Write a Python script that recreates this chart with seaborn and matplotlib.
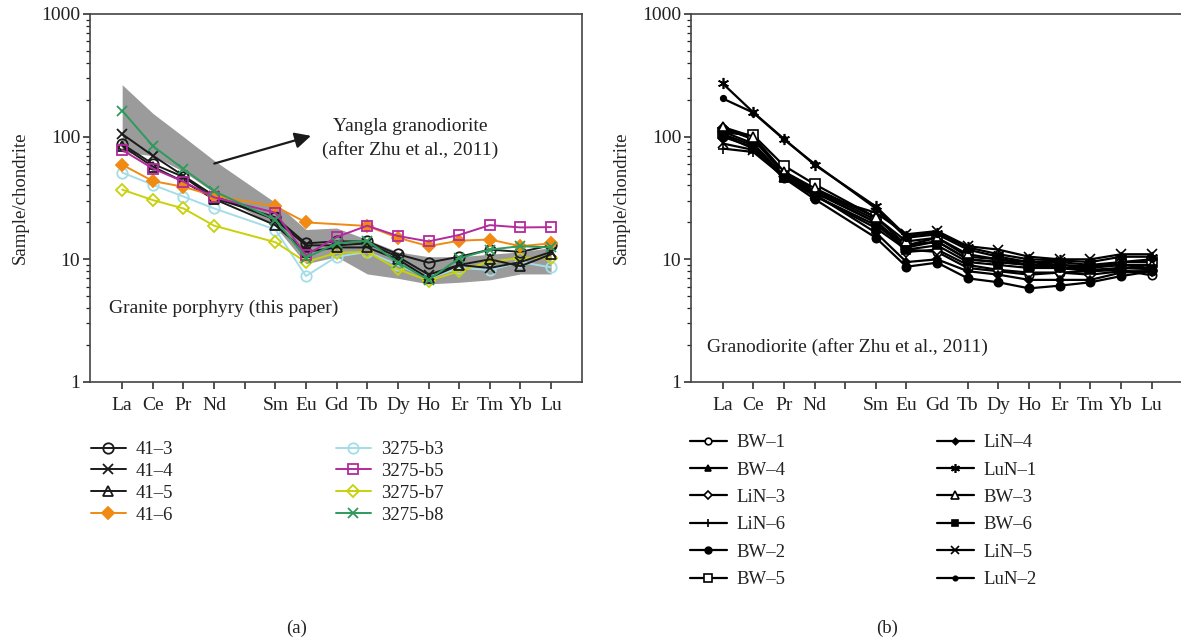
import numpy as np
import pandas as pd
import matplotlib
matplotlib.use("Agg")
import matplotlib.pyplot as plt
from matplotlib.ticker import FixedLocator, FixedFormatter, FuncFormatter
import seaborn as sns

# ---------------- data ----------------
axis_labels = ['La', 'Ce', 'Pr', 'Nd', 'Pm', 'Sm', 'Eu', 'Gd', 'Tb', 'Dy', 'Ho', 'Er', 'Tm', 'Yb', 'Lu']
ree = ['La', 'Ce', 'Pr', 'Nd', 'Sm', 'Eu', 'Gd', 'Tb', 'Dy', 'Ho', 'Er', 'Tm', 'Yb', 'Lu']

# panel (a): granite porphyry
s41_3 = [87, 60, 47, 31.5, 22, 13.5, 14, 14, 11, 9.4, 10.5, 12, 11.5, 13]
s41_4 = [105, 70, 48, 33, 21, 13, 13, 13.5, 10.5, 7.5, 9, 8.5, 9.5, 11.5]
s41_5 = [84, 57, 43, 31, 19, 11.5, 12.5, 12.5, 10, 7, 9, 10, 8.8, 11]
s41_6 = [59, 43.5, 39, 33, 27, 20, np.nan, 18.7, 15, 12.8, 14.2, 14.5, 12.8, 13.5]
s3275_b3 = [51, 40.5, 32.5, 26, 17.5, 7.3, 10.5, 11.5, 9, 7, 8.5, 8.2, 9.5, 8.6]
s3275_b5 = [78, 55, 43, 32, 24, 10.8, 15.2, 18.8, 15.5, 14, 15.8, 19, 18.2, 18.3]
s3275_b7 = [37, 30.4, 26, 18.8, 13.8, 9.5, 11.3, 11.5, 8.3, 6.7, 8, 9.6, 10.2, 10.3]
s3275_b8 = [163, 84, 54.5, 36, 21, 10.3, 13.5, 14.2, 9.4, 6.8, 10.2, 12, 12.8, 12.5]
names_a = ['41\u20133', '41\u20134', '41\u20135', '41\u20136',
           '3275-b3', '3275-b5', '3275-b7', '3275-b8']

# Yangla granodiorite envelope
band_upper = [265, 155, 100, 64, 29, 17.5, 18, 14.5, 11.5, 10.5, 10.5, 11, 11.5, 12.5]
band_lower = [75, 70, 52, 35, 18.5, 9.2, 10.5, 7.6, 7.0, 6.3, 6.5, 6.8, 7.6, 7.6]

# panel (b): granodiorite (Zhu et al., 2011)
bw_1 = [115, 98, 50, 36, 20, 12, 11.5, 8.5, 8, 7.5, 7.8, 8, 8.2, 7.4]
bw_4 = [110, 88, 48, 35, 20, 13, 14, 10, 9.5, 9, 8.5, 8, 8.5, 8.5]
lin_3 = [118, 95, 50, 37, 21, 11.5, 12, 9, 8.2, 7.8, 7.8, 7.5, 8, 8]
lin_6 = [80, 75, 47, 33, 19, 12.5, 14, 10, 9.5, 9, 8.5, 8.5, 9, 8.5]
bw_2 = [100, 82, 46, 31, 15, 8.7, 9.4, 7.0, 6.5, 5.8, 6.1, 6.5, 7.3, 8]
bw_5 = [108, 103, 58, 41, 22, 13, 15, 10.5, 10, 9, 9, 8.5, 9.5, 9.5]
lin_4 = [105, 85, 47, 34, 16.5, 9.5, 10, 8, 7.5, 6.8, 6.8, 6.8, 7.8, 8]
lun_1 = [272, 158, 96, 59, 27, 15.5, 16.5, 12.5, 11, 10, 9.8, 9.5, 10.5, 10.5]
bw_3 = [120, 100, 52, 38, 22, 14, 15, 11, 10, 9.5, 9, 8.8, 9, 9]
bw_6 = [103, 80, 46, 33, 18, 12, 13, 9.5, 9, 8.5, 8.5, 8.2, 8.5, 8.3]
lin_5 = [88, 78, 47, 34, 24, 16, 17, 12.8, 12, 10.5, 10, 10, 11, 11]
lun_2 = [205, 157, 95, 60, 26, 15, 16, 12, 10.5, 9.5, 9.5, 9, 9.5, 10]
names_b = ['BW\u20131', 'BW\u20134', 'LiN\u20133', 'LiN\u20136', 'BW\u20132', 'BW\u20135',
           'LiN\u20134', 'LuN\u20131', 'BW\u20133', 'BW\u20136', 'LiN\u20135', 'LuN\u20132']

# ---------------- style ----------------
sns.set_style("ticks")
plt.rcParams['font.family'] = ['Liberation Serif', 'DejaVu Serif']
FS = 13.5
W, H = 1181, 644
fig = plt.figure(figsize=(W / 100, H / 100), dpi=100)

def px_axes(l, t, r, b):
    return [l / W, 1 - b / H, (r - l) / W, (b - t) / H]

ax1 = fig.add_axes(px_axes(90, 14, 581.7, 382))
ax2 = fig.add_axes(px_axes(691, 14, 1183, 382))

xpos = [axis_labels.index(e) for e in ree]

def long_df(series, names):
    rows = []
    for nm, vals in zip(names, series):
        for e, x, v in zip(ree, xpos, vals):
            if not np.isnan(v):
                rows.append((nm, e, x, v))
    return pd.DataFrame(rows, columns=['sample', 'ree', 'x', 'value'])

# ---------------- panel (a) ----------------
ax1.fill_between(xpos, band_lower, band_upper, color='#9b9b9b', lw=0, zorder=1)

df_a = long_df([s41_3, s41_4, s41_5, s41_6, s3275_b3, s3275_b5, s3275_b7, s3275_b8], names_a)
style_a = {
    names_a[0]: dict(color='#1a1a1a', marker='o', mfc='none'),
    names_a[1]: dict(color='#1a1a1a', marker='x', mfc='none'),
    names_a[2]: dict(color='#1a1a1a', marker='^', mfc='none'),
    names_a[3]: dict(color='#f08a12', marker='D', mfc='#f08a12'),
    names_a[4]: dict(color='#a4dde8', marker='o', mfc='none'),
    names_a[5]: dict(color='#b32a9c', marker='s', mfc='none'),
    names_a[6]: dict(color='#c9d10a', marker='D', mfc='none'),
    names_a[7]: dict(color='#2e9a5c', marker='x', mfc='none'),
}
draw_order_a = [names_a[4], names_a[6], names_a[2], names_a[0], names_a[1], names_a[3], names_a[5], names_a[7]]
for nm in draw_order_a:
    st = style_a[nm]
    sub = df_a[df_a['sample'] == nm]
    ms = 6 if st['marker'] == 'D' else 7.5
    sns.lineplot(data=sub, x='x', y='value', ax=ax1, sort=False, estimator=None,
                 color=st['color'], marker=st['marker'], markersize=ms,
                 markerfacecolor=st['mfc'], markeredgecolor=st['color'],
                 markeredgewidth=1.3, linewidth=1.4, label=nm, zorder=3)

ax1.annotate('', xy=(6.25, 103), xytext=(2.92, 59.5),
             arrowprops=dict(arrowstyle='-|>', color='#1a1a1a', lw=1.6,
                             mutation_scale=24), zorder=5)
ax1.text(9.39, 97, 'Yangla granodiorite\n(after Zhu et al., 2011)', ha='center', va='center',
         fontsize=FS + 0.5, linespacing=1.4, color='#222222')
ax1.text(-0.42, 4.0, 'Granite porphyry (this paper)', ha='left', va='center',
         fontsize=FS + 0.5, color='#222222')

# ---------------- panel (b) ----------------
df_b = long_df([bw_1, bw_4, lin_3, lin_6, bw_2, bw_5, lin_4, lun_1, bw_3, bw_6, lin_5, lun_2], names_b)
style_b = {
    names_b[0]: dict(marker='o', mfc='white', ms=6),
    names_b[1]: dict(marker='^', mfc='black', ms=6),
    names_b[2]: dict(marker='D', mfc='white', ms=5),
    names_b[3]: dict(marker='+', mfc='black', ms=7),
    names_b[4]: dict(marker='o', mfc='black', ms=6),
    names_b[5]: dict(marker='s', mfc='white', ms=6.5),
    names_b[6]: dict(marker='D', mfc='black', ms=4),
    names_b[7]: dict(marker=(6, 2, 0), mfc='black', ms=8),
    names_b[8]: dict(marker='^', mfc='white', ms=6.5),
    names_b[9]: dict(marker='s', mfc='black', ms=6),
    names_b[10]: dict(marker='x', mfc='black', ms=6.5),
    names_b[11]: dict(marker='o', mfc='black', ms=4),
}
for nm in names_b:
    st = style_b[nm]
    sub = df_b[df_b['sample'] == nm]
    sns.lineplot(data=sub, x='x', y='value', ax=ax2, sort=False, estimator=None,
                 color='black', marker=st['marker'], markersize=st['ms'],
                 markerfacecolor=st['mfc'], markeredgecolor='black',
                 markeredgewidth=1.2, linewidth=1.6, label=nm, zorder=3)

ax2.text(-0.51, 1.93, 'Granodiorite (after Zhu et al., 2011)', ha='left', va='center',
         fontsize=FS + 0.5, color='#222222')

# ---------------- axes formatting ----------------
for ax, xl in ((ax1, (-1.05, 15.0)), (ax2, (-1.03, 15.02))):
    if ax.get_legend() is not None:
        ax.get_legend().remove()
    ax.set_yscale('log')
    ax.set_ylim(1, 1000)
    ax.set_xlim(*xl)
    ax.set_xlabel('')
    ax.set_ylabel('Sample/chondrite', fontsize=FS, color='#222222', labelpad=9)
    ax.yaxis.set_major_formatter(FuncFormatter(lambda v, p: f'{v:g}'))
    ax.tick_params(axis='y', which='major', direction='out', length=5, width=1.1,
                   labelsize=FS + 0.5, colors='#222222', pad=2)
    ax.tick_params(axis='y', which='minor', direction='out', length=3, width=0.9, colors='#222222')
    for sp in ax.spines.values():
        sp.set_color('#444444')
        sp.set_linewidth(1.2)

# x ticks panel (a): all positions
ax1.xaxis.set_major_locator(FixedLocator(list(range(len(axis_labels)))))
ax1.xaxis.set_major_formatter(FixedFormatter(['' if l == 'Pm' else l for l in axis_labels]))
ax1.tick_params(axis='x', which='major', direction='out', length=5, width=1.1,
                labelsize=FS + 0.5, colors='#222222', pad=6)

# x ticks panel (b): Gd tick mark absent, label kept
maj_b = [i for i, l in enumerate(axis_labels) if l != 'Gd']
ax2.xaxis.set_major_locator(FixedLocator(maj_b))
ax2.xaxis.set_major_formatter(FixedFormatter(['' if axis_labels[i] == 'Pm' else axis_labels[i] for i in maj_b]))
ax2.xaxis.set_minor_locator(FixedLocator([axis_labels.index('Gd')]))
ax2.xaxis.set_minor_formatter(FixedFormatter(['Gd']))
ax2.tick_params(axis='x', which='major', direction='out', length=5, width=1.1,
                labelsize=FS + 0.5, colors='#222222', pad=6)
ax2.tick_params(axis='x', which='minor', direction='out', length=0,
                labelsize=FS + 0.5, colors='#222222', pad=11)

# ---------------- legends ----------------
def add_legend(ax, idx, left_px, top_px, spacing, hl, mscale=1.0):
    handles, labels = ax.get_legend_handles_labels()
    hs = [handles[i] for i in idx]
    ls = [labels[i] for i in idx]
    leg = fig.legend(hs, ls, loc='upper left', bbox_to_anchor=(left_px / W, 1 - top_px / H),
                     frameon=False, fontsize=FS, borderpad=0, borderaxespad=0,
                     handlelength=hl, handletextpad=0.55, labelspacing=spacing,
                     labelcolor='#222222', markerscale=mscale)
    return leg

h1, l1 = ax1.get_legend_handles_labels()
order_a = [l1.index(n) for n in names_a]
add_legend(ax1, order_a[:4], 91, 441, 0.25, 1.85)
add_legend(ax1, order_a[4:], 336, 441, 0.25, 1.85)
add_legend(ax2, list(range(6)), 690, 434, 0.55, 1.95, 0.8)
add_legend(ax2, list(range(6, 12)), 937, 434, 0.55, 1.95, 0.8)

fig.text(297 / W, 1 - 628 / H, '(a)', ha='center', va='center', fontsize=FS, color='#222222')
fig.text(887 / W, 1 - 628 / H, '(b)', ha='center', va='center', fontsize=FS, color='#222222')

fig.savefig('out.png', dpi=100)
